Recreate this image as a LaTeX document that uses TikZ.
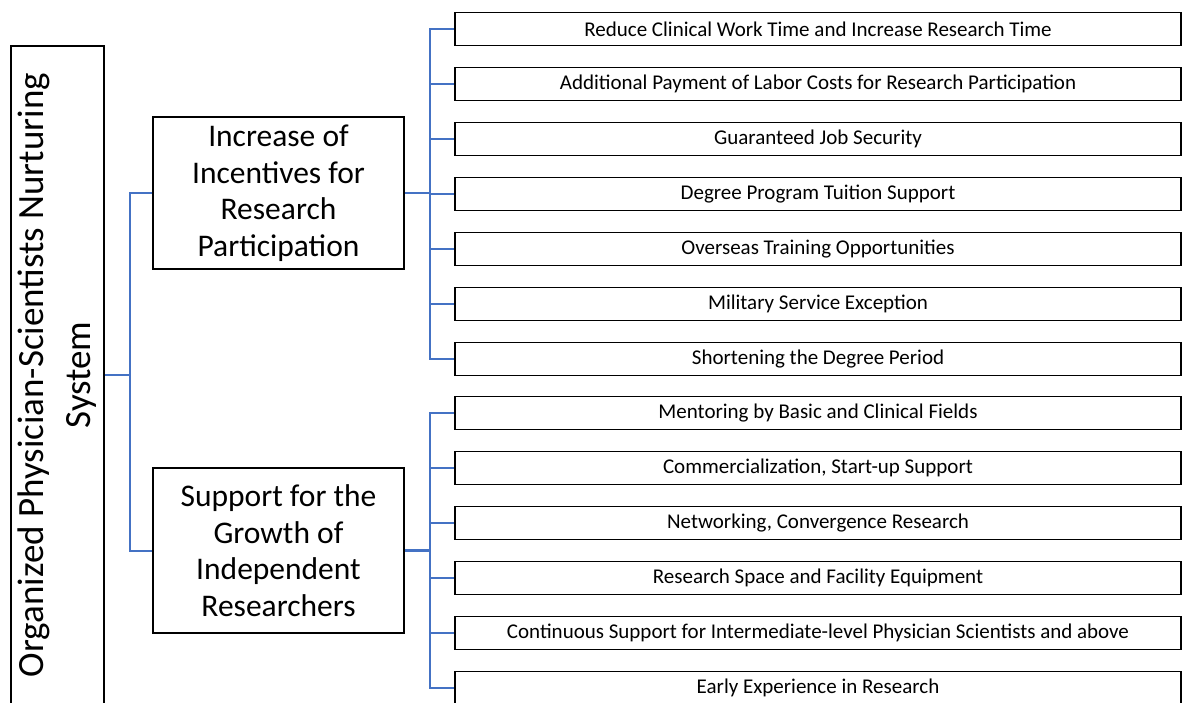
\documentclass[tikz,border=0pt]{standalone}
\usepackage{fontspec}
\setmainfont{Carlito}
\usetikzlibrary{positioning, calc}
\definecolor{linkblue}{HTML}{4472C4}

\begin{document}
\begin{tikzpicture}[
      x=1pt, y=-1pt,
      rootbox/.style={rectangle, draw, line width=1.8pt, rotate=90,
        minimum width=658pt, minimum height=93pt, align=center,
        font=\fontsize{37}{47}\selectfont, inner sep=0pt},
      groupbox/.style={rectangle, draw, line width=1.8pt, fill=white,
        minimum width=251pt, align=center,
        font=\fontsize{31.5}{36.5}\selectfont, inner sep=0pt},
      itembox/.style={rectangle, draw, line width=1.8pt, fill=white,
        minimum width=726pt, minimum height=33pt, align=center,
        font=\fontsize{21}{25}\selectfont, inner sep=0pt},
      link/.style={draw=linkblue, line width=2pt},
      stub/.style={draw=linkblue, line width=2.6pt}
    ]
    \useasboundingbox (0,0) rectangle (1183,702);

    % ---- root ----
    \node[rootbox] (root) at (57.5,375)
      {Organized Physician-Scientists Nurturing\\ System};

    % ---- two groups ----
    \node[groupbox, minimum height=152pt] (inc) at (278.5,193)
      {Increase of\\ Incentives for\\ Research\\ Participation};
    \node[groupbox, minimum height=165pt] (sup) at (278.5,550.5)
      {Support for the\\ Growth of\\ Independent\\ Researchers};

    % ---- items of the first group ----
    \foreach \txt [count=\i] in {
        Reduce Clinical Work Time and Increase Research Time,
        Additional Payment of Labor Costs for Research Participation,
        Guaranteed Job Security,
        Degree Program Tuition Support,
        Overseas Training Opportunities,
        Military Service Exception,
        Shortening the Degree Period}
      \node[itembox] (inc\i) at (818,{29+55*(\i-1)}) {\txt};

    % ---- items of the second group ----
    \foreach \txt [count=\i] in {
        Mentoring by Basic and Clinical Fields,
        {Commercialization, Start-up Support},
        {Networking, Convergence Research},
        Research Space and Facility Equipment,
        Continuous Support for Intermediate-level Physician Scientists and above,
        Early Experience in Research}
      \node[itembox] (sup\i) at (818,{413+55*(\i-1)}) {\txt};

    % root fans out to both groups
    \coordinate (rt) at ($(root.south)+(25,0)$);
    \draw[stub] (root.south) -- (rt);
    \draw[link] (inc.west) -| (rt) |- (sup.west);

    % each group fans out to its items
    \coordinate (it) at ($(inc.east)+(25,0)$);
    \draw[stub] (inc.east) -- (it);
    \foreach \i in {1,...,7}
      \draw[link] (it) |- (inc\i.west);

    \coordinate (st) at ($(sup.east)+(25,0)$);
    \draw[stub] (sup.east) -- (st);
    \foreach \i in {1,...,6}
      \draw[link] (st) |- (sup\i.west);
  \end{tikzpicture}
\end{document}
